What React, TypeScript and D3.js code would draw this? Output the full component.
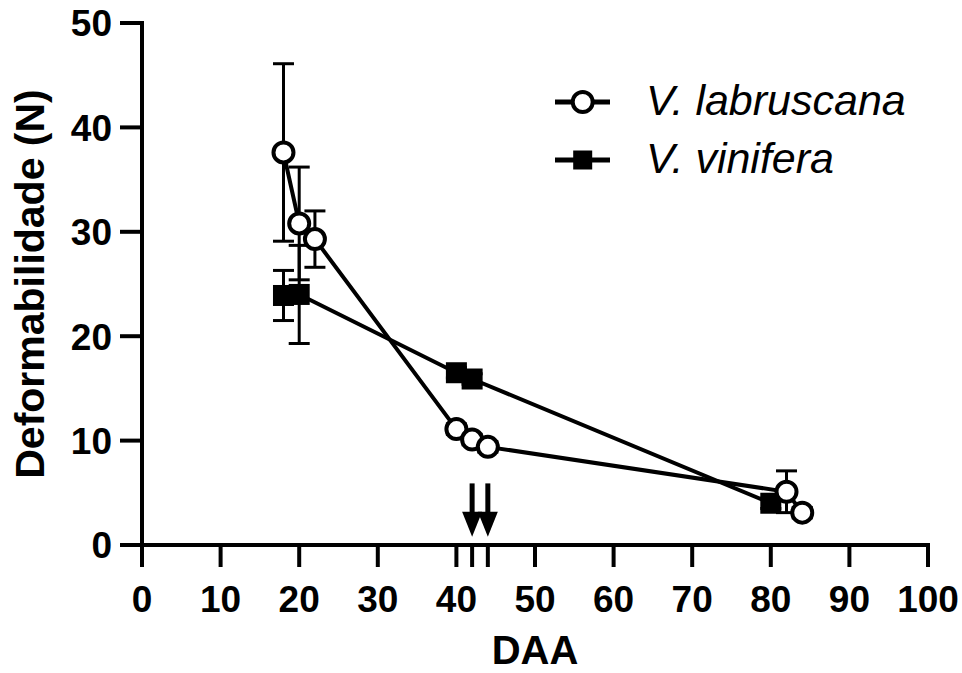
import React from 'react';
import {scaleLinear, line} from 'd3';

// DAA values and deformability (N), mean and error
const labruscanaX = [18, 20, 22, 40, 42, 44, 82, 84];
const labruscanaY = [37.6, 30.8, 29.3, 11.1, 10.1, 9.4, 5.1, 3.1];
const labruscanaErr = [8.5, 5.4, 2.7, 0.5, 0.5, 0.5, 2.0, 0.5];

const viniferaX = [18, 20, 40, 42, 80];
const viniferaY = [23.9, 24.0, 16.5, 15.9, 4.0];
const viniferaErr = [2.4, 4.7, 0.5, 0.5, 0.5];

const xTicks = [0, 10, 20, 30, 40, 50, 60, 70, 80, 90, 100];
const yTicks = [0, 10, 20, 30, 40, 50];
const arrowX = [42, 44];
const arrowTop = 5.9;
const arrowTip = 0.8;

const width = 962;
const height = 673;
const margin = {top: 23, right: 34, bottom: 128, left: 142};

const font = '"Liberation Sans", Arial, sans-serif';

const xScale = scaleLinear().domain([0, 100]).range([margin.left, width - margin.right]);
const yScale = scaleLinear().domain([0, 50]).range([height - margin.bottom, margin.top]);

const toPoints = (xs: number[], ys: number[]) => xs.map((x, i) => ({x, y: ys[i]}));

const pathGen = line<{x: number; y: number}>()
  .x((d) => xScale(d.x))
  .y((d) => yScale(d.y));

const labruscana = toPoints(labruscanaX, labruscanaY);
const vinifera = toPoints(viniferaX, viniferaY);

const tickLen = 22;
const sw = 4;
const circleR = 10;
const sq = 21;

function ErrorBars({xs, ys, errs}: {xs: number[]; ys: number[]; errs: number[]}) {
  return (
    <g stroke="black" strokeWidth={3}>
      {xs.map((x, i) => {
        const cx = xScale(x);
        const top = yScale(ys[i] + errs[i]);
        const bot = yScale(ys[i] - errs[i]);
        return (
          <g key={i}>
            <line x1={cx} x2={cx} y1={top} y2={bot} />
            <line x1={cx - 10.5} x2={cx + 10.5} y1={top} y2={top} />
            <line x1={cx - 10.5} x2={cx + 10.5} y1={bot} y2={bot} />
          </g>
        );
      })}
    </g>
  );
}

export default function App() {
  const x0 = xScale(0);
  const y0 = yScale(0);
  return (
    <div style={{position: 'absolute', left: 0, top: 0}}>
      <svg width={width} height={height} style={{display: 'block', background: 'white'}}>
        {/* axes */}
        <g stroke="black" strokeWidth={sw}>
          <line x1={x0} x2={x0} y1={yScale(50) - 2} y2={y0 + tickLen} />
          <line x1={x0 - tickLen} x2={xScale(100) + 2} y1={y0} y2={y0} />
          {yTicks.map((t) => (
            <line key={t} x1={x0 - tickLen} x2={x0} y1={yScale(t)} y2={yScale(t)} />
          ))}
          {xTicks.concat(arrowX).map((t) => (
            <line key={'x' + t} x1={xScale(t)} x2={xScale(t)} y1={y0} y2={y0 + tickLen} />
          ))}
        </g>
        <g fontFamily={font} fontWeight="bold" fontSize={37}>
          {yTicks.map((t) => (
            <text key={t} x={x0 - tickLen - 8} y={yScale(t)} dy="0.36em" textAnchor="end">{t}</text>
          ))}
          {xTicks.map((t) => (
            <text key={t} x={xScale(t)} y={612} textAnchor="middle">{t}</text>
          ))}
        </g>
        <text
          fontFamily={font}
          fontWeight="bold"
          fontSize={40}
          x={(xScale(0) + xScale(100)) / 2}
          y={664}
          textAnchor="middle"
        >DAA</text>
        <text
          fontFamily={font}
          fontWeight="bold"
          fontSize={41}
          transform={`translate(44, ${(yScale(0) + yScale(50)) / 2}) rotate(-90)`}
          textAnchor="middle"
        >Deformabilidade (N)</text>

        {/* arrows */}
        {arrowX.map((a) => {
          const ax = xScale(a);
          const top = yScale(arrowTop);
          const tip = yScale(arrowTip);
          return (
            <g key={a}>
              <rect x={ax - 2.5} y={top} width={5} height={tip - top - 20} fill="black" />
              <path d={`M${ax - 10},${tip - 25}L${ax + 10},${tip - 25}L${ax},${tip}Z`} fill="black" />
            </g>
          );
        })}

        {/* V. vinifera */}
        <ErrorBars xs={viniferaX} ys={viniferaY} errs={viniferaErr} />
        <path d={pathGen(vinifera) || ''} fill="none" stroke="black" strokeWidth={sw} />
        {vinifera.map((d, i) => (
          <rect key={i} x={xScale(d.x) - sq / 2} y={yScale(d.y) - sq / 2} width={sq} height={sq} fill="black" />
        ))}

        {/* V. labruscana */}
        <ErrorBars xs={labruscanaX} ys={labruscanaY} errs={labruscanaErr} />
        <path d={pathGen(labruscana) || ''} fill="none" stroke="black" strokeWidth={sw} />
        {labruscana.map((d, i) => (
          <circle key={i} cx={xScale(d.x)} cy={yScale(d.y)} r={circleR} fill="white" stroke="black" strokeWidth={sw} />
        ))}

        {/* legend */}
        <g>
          <line x1={555} x2={610} y1={102} y2={102} stroke="black" strokeWidth={sw + 1} />
          <circle cx={582.7} cy={102} r={circleR} fill="white" stroke="black" strokeWidth={sw} />
          <text x={646} y={115} fontFamily={font} fontStyle="italic" fontSize={43}>V. labruscana</text>
          <line x1={555} x2={610} y1={160} y2={160} stroke="black" strokeWidth={sw + 1} />
          <rect x={582.7 - 9.5} y={150.5} width={19} height={19} fill="black" />
          <text x={646} y={173} fontFamily={font} fontStyle="italic" fontSize={43}>V. vinifera</text>
        </g>
      </svg>
    </div>
  );
}
